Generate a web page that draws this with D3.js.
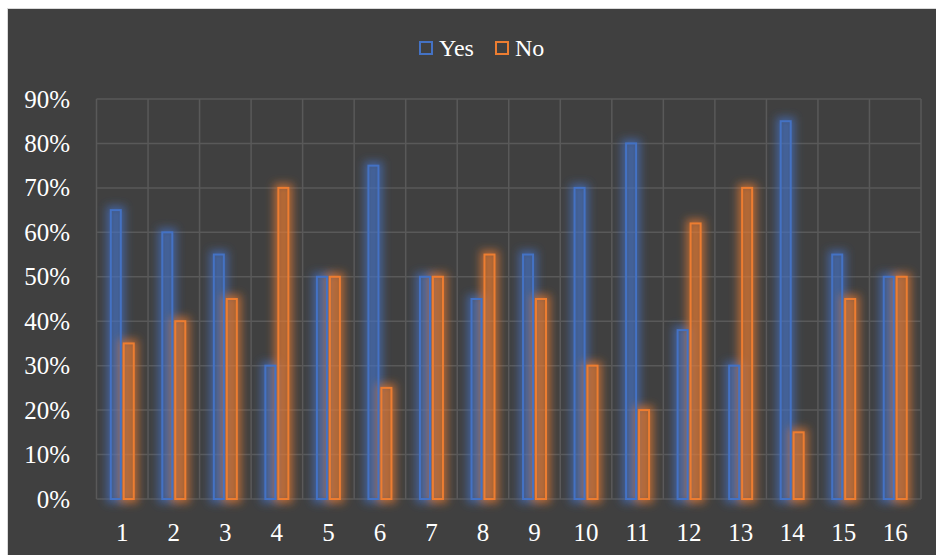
<!DOCTYPE html>
<html>
<head>
<meta charset="utf-8">
<script src="https://cdn.jsdelivr.net/npm/d3@7"></script>
<style>
  html, body { margin: 0; padding: 0; background: #fff; }
</style>
</head>
<body>
<script>
// data
const categories = ['1','2','3','4','5','6','7','8','9','10','11','12','13','14','15','16'];
const seriesNames = ['Yes', 'No'];
const yesValues = [0.65, 0.60, 0.55, 0.30, 0.50, 0.75, 0.50, 0.45, 0.55, 0.70, 0.80, 0.38, 0.30, 0.85, 0.55, 0.50];
const noValues  = [0.35, 0.40, 0.45, 0.70, 0.50, 0.25, 0.50, 0.55, 0.45, 0.30, 0.20, 0.62, 0.70, 0.15, 0.45, 0.50];
const yTicks = [0, 0.1, 0.2, 0.3, 0.4, 0.5, 0.6, 0.7, 0.8, 0.9];
const colors = { Yes: '#4472C4', No: '#ED7D31' };

const font = "'Liberation Serif', 'Times New Roman', Times, 'DejaVu Serif', serif";
const w = 936, h = 555;
const svg = d3.select('body').append('svg')
  .attr('width', w)
  .attr('height', h)
  .attr('font-family', font);

// glow filter
const defs = svg.append('defs');
defs.append('filter')
  .attr('id', 'glow')
  .attr('x', '-300%').attr('y', '-30%')
  .attr('width', '700%').attr('height', '160%')
  .append('feGaussianBlur')
  .attr('stdDeviation', 4.5);

// chart background
svg.append('rect')
  .attr('x', 7.5).attr('y', 8.5)
  .attr('width', w).attr('height', h)
  .attr('fill', '#404040')
  .attr('stroke', '#d9d9d9')
  .attr('stroke-width', 1);

// scales
let x0 = d3.scaleBand()
  .domain(categories)
  .range([96.5, 921]);
let x1 = d3.scaleBand()
  .domain(seriesNames)
  .range([0, x0.bandwidth()])
  .paddingInner(0.23)
  .paddingOuter(1.1);
let y = d3.scaleLinear()
  .domain([0, 0.9])
  .range([499, 99]);

// gridlines
svg.append('g')
  .selectAll('line')
  .data(yTicks)
  .enter()
    .append('line')
    .attr('x1', 96.5).attr('x2', 921)
    .attr('y1', d => y(d)).attr('y2', d => y(d))
    .attr('stroke', '#595959')
    .attr('stroke-width', 1.5);

svg.append('g')
  .selectAll('line')
  .data(categories.concat(['end']))
  .enter()
    .append('line')
    .attr('x1', d => d === 'end' ? 921 : x0(d))
    .attr('x2', d => d === 'end' ? 921 : x0(d))
    .attr('y1', y(0.9)).attr('y2', y(0))
    .attr('stroke', '#595959')
    .attr('stroke-width', 1.5);

// bar data
let data = categories.map((c, i) => ({
  cat: c,
  vals: [{ s: 'Yes', v: yesValues[i] }, { s: 'No', v: noValues[i] }]
}));

let groups = svg.append('g')
  .selectAll('g')
  .data(data)
  .enter()
    .append('g')
    .attr('transform', d => `translate(${x0(d.cat)},0)`);

// glow layer first
groups.selectAll('.glow')
  .data(d => d.vals)
  .enter()
    .append('rect')
    .classed('glow', true)
    .attr('x', d => x1(d.s))
    .attr('y', d => y(d.v))
    .attr('width', x1.bandwidth())
    .attr('height', d => y(0) - y(d.v))
    .attr('fill', d => colors[d.s])
    .attr('fill-opacity', 0.35)
    .attr('stroke', d => colors[d.s])
    .attr('stroke-width', 9)
    .attr('stroke-opacity', 0.6)
    .attr('filter', 'url(#glow)');

groups.selectAll('.bar')
  .data(d => d.vals)
  .enter()
    .append('rect')
    .classed('bar', true)
    .attr('x', d => x1(d.s))
    .attr('y', d => y(d.v))
    .attr('width', x1.bandwidth())
    .attr('height', d => y(0) - y(d.v))
    .attr('fill', 'none')
    .attr('stroke', d => colors[d.s])
    .attr('stroke-width', 2);

// y labels
svg.append('g')
  .selectAll('text')
  .data(yTicks)
  .enter()
    .append('text')
    .attr('x', 70)
    .attr('y', d => y(d))
    .attr('dy', '0.34em')
    .attr('text-anchor', 'end')
    .attr('fill', '#fff')
    .style('font-size', '25px')
    .text(d3.format('.0%'));

// x labels
svg.append('g')
  .selectAll('text')
  .data(categories)
  .enter()
    .append('text')
    .attr('x', d => x0(d) + x0.bandwidth() / 2)
    .attr('y', 541)
    .attr('text-anchor', 'middle')
    .attr('fill', '#fff')
    .style('font-size', '25px')
    .text(d => d);

// legend
let legend = svg.append('g');
let legendX = { Yes: 419, No: 495 };
seriesNames.forEach(s => {
  legend.append('rect')
    .attr('x', legendX[s] + 1).attr('y', 42)
    .attr('width', 12).attr('height', 12)
    .attr('fill', 'none')
    .attr('stroke', colors[s])
    .attr('stroke-width', 2);
  legend.append('text')
    .attr('x', legendX[s] + 20)
    .attr('y', 56)
    .attr('fill', '#fff')
    .style('font-size', '24px')
    .text(s);
});
</script>
</body>
</html>
